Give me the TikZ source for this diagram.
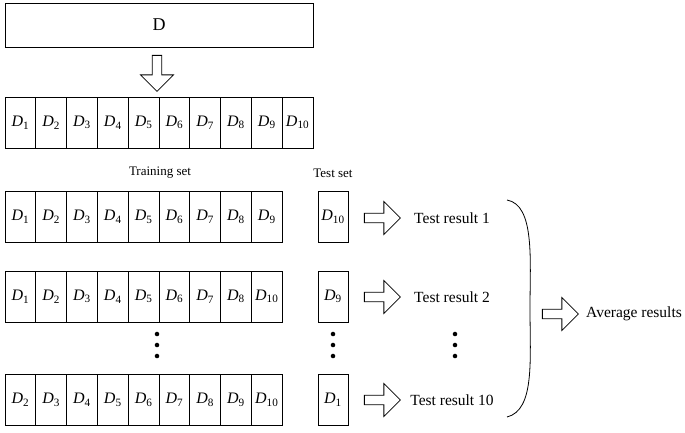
\documentclass[tikz,border=0pt]{standalone}
\usepackage{fontspec}
\setmainfont{Liberation Serif}
\usetikzlibrary{
	positioning,
	shapes.arrows
}
\tikzset{
	cell/.style={draw,thick,outer sep=0pt,minimum width=30.8pt,minimum height=51pt,inner sep=0pt,font=\fontsize{16}{16}\selectfont},
	hollow/.style={single arrow,draw,thick,minimum width=33pt,single arrow head extend=6pt,minimum height=36pt,inner sep=2pt},
	result/.style={font=\fontsize{15.5}{15.5}\selectfont},
	dot/.style={circle,fill,inner sep=1.6pt}
}
\newcommand{\Dsub}[1]{\textit{D}\textsubscript{#1}}
\newcommand{\vdotsat}[2]{%
	\node[dot] at (#1,#2-11) {};
	\node[dot] at (#1,#2) {};
	\node[dot] at (#1,#2+11) {};}

\begin{document}
\begin{tikzpicture}[x=1pt,y=-1pt]
	\useasboundingbox (0,0) rectangle (685,432);
	% dataset
	\node[draw,thick,minimum width=308pt,minimum height=44pt,font=\fontsize{18}{18}\selectfont] (D) at (159,25) {D};
	\node[hollow,rotate=-90] (split) at (157,71) {};
	% ten folds
	\node[cell,anchor=west] (f1) at (5,122.5) {\Dsub{1}};
	\foreach \i [remember=\i as \j (initially 1)] in {2,...,10}
		\node[cell,right=0pt of f\j] (f\i) {\Dsub{\i}};
	% labels
	\node[font=\fontsize{13}{13}\selectfont] (train) at (160,173) {Training set};
	\node[font=\fontsize{13}{13}\selectfont] (testlbl) at (333,173) {Test set};
	% row 1
	\node[cell,anchor=west] (a1) at (5,217) {\Dsub{1}};
	\foreach \i [remember=\i as \j (initially 1)] in {2,...,9}
		\node[cell,right=0pt of a\j] (a\i) {\Dsub{\i}};
	\node[cell,minimum width=30pt] (ta) at (333,217) {\Dsub{10}};
	% row 2
	\node[cell,anchor=west] (b1) at (5,296.5) {\Dsub{1}};
	\foreach \i/\k [remember=\i as \j (initially 1)] in {2/2,3/3,4/4,5/5,6/6,7/7,8/8,9/10}
		\node[cell,right=0pt of b\j] (b\i) {\Dsub{\k}};
	\node[cell,minimum width=30pt] (tb) at (333,296.5) {\Dsub{9}};
	% row 10
	\node[cell,anchor=west] (c1) at (5,400) {\Dsub{2}};
	\foreach \i [remember=\i as \j (initially 1),evaluate=\i as \k using int(\i+1)] in {2,...,9}
		\node[cell,right=0pt of c\j] (c\i) {\Dsub{\k}};
	\node[cell,minimum width=30pt] (tc) at (333,400) {\Dsub{1}};
	% results
	\node[hollow] (ra) at (380,218) {};
	\node[hollow] (rb) at (380,297) {};
	\node[hollow] (rc) at (380,400) {};
	\node[result] (resa) at (452,218) {Test result 1};
	\node[result] (resb) at (452,297) {Test result 2};
	\node[result] (resc) at (452,400) {Test result 10};
	\vdotsat{157}{345}
	\vdotsat{333}{345}
	\vdotsat{455}{345}
	% brace and average
	\coordinate (bt) at (507,200);
	\coordinate (bb) at (507,417);
	\draw[thick] (bt) .. controls (535,205) and (530,260) .. (530,308)
		.. controls (530,360) and (535,410) .. (bb);
	\node[hollow] (avg) at (558,314) {};
	\node[result,anchor=west,inner sep=0pt] (avgres) at (586,314) {Average results};
\end{tikzpicture}
\end{document}
